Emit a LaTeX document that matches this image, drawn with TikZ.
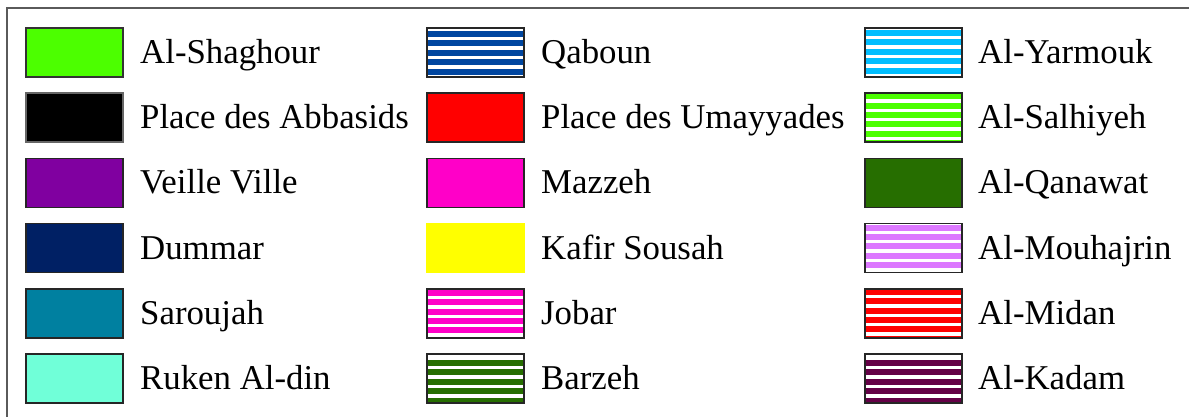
\documentclass[tikz,border=0pt]{standalone}
\usepackage{fontspec}
\setmainfont{Liberation Serif}
\definecolor{cShaghour}{RGB}{76,255,0}
\definecolor{cVeille}{RGB}{128,0,160}
\definecolor{cDummar}{RGB}{0,32,100}
\definecolor{cSaroujah}{RGB}{0,128,160}
\definecolor{cRuken}{RGB}{112,255,216}
\definecolor{cQaboun}{RGB}{0,70,160}
\definecolor{cMazzeh}{RGB}{255,0,200}
\definecolor{cBarzeh}{RGB}{38,110,0}
\definecolor{cYarmouk}{RGB}{0,190,255}
\definecolor{cMouhaj}{RGB}{220,120,255}
\definecolor{cKadam}{RGB}{100,0,70}
\definecolor{cYellow}{RGB}{255,255,0}
\definecolor{frameGray}{RGB}{90,90,90}
\newcommand{\solidswatch}[4]{%
  \node[swatch,fill=#3,draw=#4] (#1) at #2 {};}
\newcommand{\stripeswatch}[4]{%
  \node[swatch,fill=white,draw=none] (#1) at #2 {};
  \begin{scope}
    \clip (#1.south west) rectangle (#1.north east);
    \foreach \k in {0,...,5} {
      \fill[#3] ([yshift=-#4-\k*9.4]#1.north west) rectangle ([yshift=-#4-\k*9.4-6]#1.north east);
    }
  \end{scope}
  \draw[swatchborder] (#1.south west) rectangle (#1.north east);}
\begin{document}
\begin{tikzpicture}[x=1pt,y=-1pt,
  swatch/.style={minimum width=97pt,minimum height=49pt,inner sep=0pt,outer sep=0pt,line width=1.4pt,rectangle},
  swatchborder/.style={draw=black!85,line width=1.4pt},
  lbl/.style={anchor=base west,inner sep=0pt,font=\fontsize{34.8}{40}\selectfont}]
\useasboundingbox (0,0) rectangle (1189,417);
\fill[white] (0,0) rectangle (1189,417);
\coordinate (fbl) at (7,418);
\coordinate (ftl) at (7,8);
\coordinate (ftr) at (1190,8);
\draw[frameGray,line width=2pt] (fbl) -- (ftl) -- (ftr);
% column 1
\solidswatch{s11}{(74.5,52.5)}{cShaghour}{black!80}
\solidswatch{s12}{(74.5,117.7)}{black}{black!60}
\solidswatch{s13}{(74.5,182.9)}{cVeille}{black!85}
\solidswatch{s14}{(74.5,248.1)}{cDummar}{black!85}
\solidswatch{s15}{(74.5,313.3)}{cSaroujah}{black!85}
\solidswatch{s16}{(74.5,378.5)}{cRuken}{black!85}
\node[lbl] (t11) at (140,63.5) {Al-Shaghour};
\node[lbl] (t12) at (140,128.7) {Place des Abbasids};
\node[lbl] (t13) at (140,193.9) {Veille Ville};
\node[lbl] (t14) at (140,259.1) {Dummar};
\node[lbl] (t15) at (140,324.3) {Saroujah};
\node[lbl] (t16) at (140,389.5) {Ruken Al-din};
% column 2
\stripeswatch{s21}{(475.5,52.5)}{cQaboun}{3}
\solidswatch{s22}{(475.5,117.7)}{red}{black!85}
\solidswatch{s23}{(475.5,182.9)}{cMazzeh}{black!85}
\solidswatch{s24}{(475.5,248.1)}{cYellow}{cYellow}
\stripeswatch{s25}{(475.5,313.3)}{cMazzeh}{1}
\stripeswatch{s26}{(475.5,378.5)}{cBarzeh}{6}
\node[lbl] (t21) at (541,63.5) {Qaboun};
\node[lbl] (t22) at (541,128.7) {Place des Umayyades};
\node[lbl] (t23) at (541,193.9) {Mazzeh};
\node[lbl] (t24) at (541,259.1) {Kafir Sousah};
\node[lbl] (t25) at (541,324.3) {Jobar};
\node[lbl] (t26) at (541,389.5) {Barzeh};
% column 3
\stripeswatch{s31}{(913.5,52.5)}{cYarmouk}{2}
\stripeswatch{s32}{(913.5,117.7)}{cShaghour}{0}
\solidswatch{s33}{(913.5,182.9)}{cBarzeh}{black!85}
\stripeswatch{s34}{(913.5,248.1)}{cMouhaj}{1}
\stripeswatch{s35}{(913.5,313.3)}{red}{0}
\stripeswatch{s36}{(913.5,378.5)}{cKadam}{6}
\node[lbl] (t31) at (978,63.5) {Al-Yarmouk};
\node[lbl] (t32) at (978,128.7) {Al-Salhiyeh};
\node[lbl] (t33) at (978,193.9) {Al-Qanawat};
\node[lbl] (t34) at (978,259.1) {Al-Mouhajrin};
\node[lbl] (t35) at (978,324.3) {Al-Midan};
\node[lbl] (t36) at (978,389.5) {Al-Kadam};
\end{tikzpicture}
\end{document}
